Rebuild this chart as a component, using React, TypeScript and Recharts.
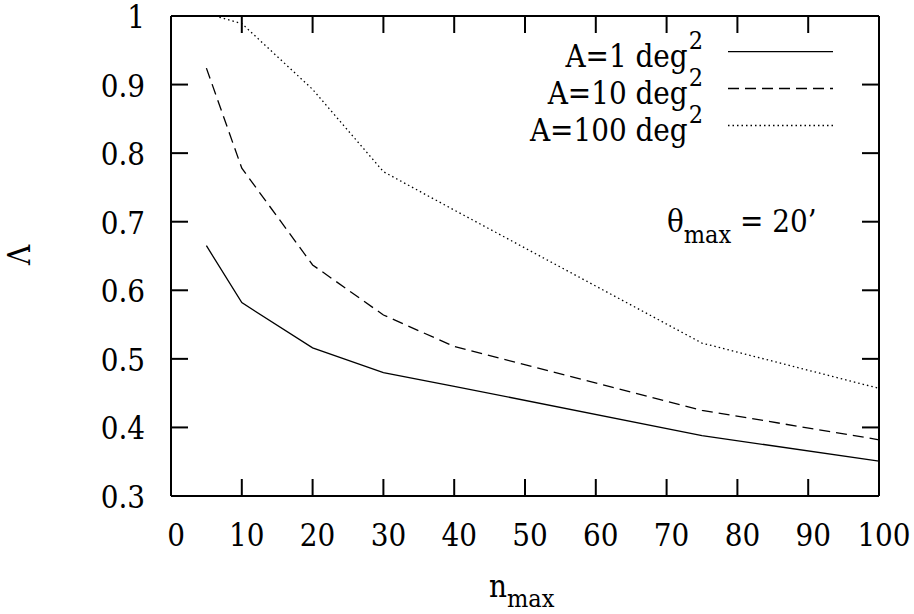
import { LineChart, Line, XAxis, YAxis, Legend } from 'recharts';

// n_max sampled values and Lambda for each survey area
const nMax = [5, 10, 20, 30, 40, 75, 100];
const lambdaA1 = [0.665, 0.582, 0.516, 0.48, 0.46, 0.388, 0.351];
const lambdaA10 = [0.924, 0.778, 0.637, 0.564, 0.518, 0.425, 0.382];
const lambdaA100 = [1.0035, 0.989, 0.893, 0.773, 0.717, 0.523, 0.457];

const xTicks = [0, 10, 20, 30, 40, 50, 60, 70, 80, 90, 100];
const yTicks = [0.3, 0.4, 0.5, 0.6, 0.7, 0.8, 0.9, 1];

const seriesLabels = ['A=1 deg', 'A=10 deg', 'A=100 deg'];
const seriesKeys = ['a1', 'a10', 'a100'];
const seriesDash = [undefined, '11 6', '1.5 3'];

// only serif face available offline is DejaVu Serif; condensed gets closer to Times widths
const FS = 31;
const SUB = 25;
const txt = {
  fontFamily: 'DejaVu Serif',
  fontStretch: 'condensed',
  fontSize: FS,
  fill: '#000',
};

const rows = nMax.map((n, i) => ({
  n,
  a1: lambdaA1[i],
  a10: lambdaA10[i],
  a100: lambdaA100[i],
}));

const frame = { stroke: '#000', strokeWidth: 2 };

function BottomTick({ x, y, payload }: any) {
  return (
    <g>
      <line x1={x} y1={y} x2={x} y2={y - 17} stroke="#000" strokeWidth={2} />
      <text x={x + 5} y={y + 50} textAnchor="middle" style={txt}>
        {payload.value}
      </text>
    </g>
  );
}

function TopTick({ x, y }: any) {
  return <line x1={x} y1={y} x2={x} y2={y + 17} stroke="#000" strokeWidth={2} />;
}

function LeftTick({ x, y, payload }: any) {
  return (
    <g>
      <line x1={x} y1={y} x2={x + 17} y2={y} stroke="#000" strokeWidth={2} />
      <text x={x - 26} y={y + 12} textAnchor="end" style={txt}>
        {String(payload.value)}
      </text>
    </g>
  );
}

function RightTick({ x, y }: any) {
  return <line x1={x} y1={y} x2={x - 17} y2={y} stroke="#000" strokeWidth={2} />;
}

function Overlay() {
  const baseY = [66.7, 103.5, 140.5];
  return (
    <svg width={914} height={614} style={{ display: 'block', pointerEvents: 'none' }}>
      {seriesLabels.map((label, i) => (
        <g key={label}>
          <text x={703} y={baseY[i]} textAnchor="end" style={txt}>
            {label}
            <tspan dx={1} dy={-18} style={{ fontSize: SUB }}>2</tspan>
          </text>
          <line
            x1={728}
            x2={833}
            y1={baseY[i] - 15}
            y2={baseY[i] - 15}
            stroke="#000"
            strokeWidth={1.3}
            strokeDasharray={seriesDash[i]}
          />
        </g>
      ))}
      <text x={667} y={232} style={txt}>
        θ
        <tspan dy={11} style={{ fontSize: SUB }}>max</tspan>
        <tspan dy={-11}> = 20’</tspan>
      </text>
      <text transform="translate(19,255) rotate(-90)" x={0} y={11} textAnchor="middle" style={txt}>
        Λ
      </text>
      <text x={489} y={597} style={txt}>
        n
        <tspan dy={10} style={{ fontSize: SUB }}>max</tspan>
      </text>
    </svg>
  );
}

export default function App() {
  return (
    <div style={{ position: 'absolute', left: 0, top: 0, width: 914, height: 614, background: '#fff' }}>
      <LineChart width={914} height={614} data={rows} margin={{ top: 0, right: 0, bottom: 0, left: 0 }}>
        <XAxis
          xAxisId="b"
          dataKey="n"
          type="number"
          domain={[0, 100]}
          ticks={xTicks}
          interval={0}
          height={118}
          tickSize={0}
          tickMargin={0}
          tickLine={false}
          axisLine={frame}
          tick={(p: any) => <BottomTick {...p} />}
        />
        <XAxis
          xAxisId="t"
          orientation="top"
          dataKey="n"
          type="number"
          domain={[0, 100]}
          ticks={xTicks}
          interval={0}
          height={16}
          tickSize={0}
          tickMargin={0}
          tickLine={false}
          axisLine={frame}
          tick={(p: any) => <TopTick {...p} />}
        />
        <YAxis
          yAxisId="l"
          type="number"
          domain={[0.3, 1]}
          ticks={yTicks}
          interval={0}
          allowDataOverflow
          width={171}
          tickSize={0}
          tickMargin={0}
          tickLine={false}
          axisLine={frame}
          tick={(p: any) => <LeftTick {...p} />}
        />
        <YAxis
          yAxisId="r"
          orientation="right"
          type="number"
          domain={[0.3, 1]}
          ticks={yTicks}
          interval={0}
          allowDataOverflow
          width={35}
          tickSize={0}
          tickMargin={0}
          tickLine={false}
          axisLine={frame}
          tick={(p: any) => <RightTick {...p} />}
        />
        {seriesKeys.map((k, i) => (
          <Line
            key={k}
            xAxisId="b"
            yAxisId="l"
            type="linear"
            dataKey={k}
            name={seriesLabels[i]}
            stroke="#000"
            strokeWidth={1.3}
            strokeDasharray={seriesDash[i]}
            dot={false}
            activeDot={false}
            isAnimationActive={false}
          />
        ))}
        <Legend
          layout="vertical"
          align="center"
          verticalAlign="middle"
          wrapperStyle={{ position: 'absolute', left: 0, top: 0, width: 914, height: 614 }}
          content={() => <Overlay />}
        />
      </LineChart>
    </div>
  );
}
